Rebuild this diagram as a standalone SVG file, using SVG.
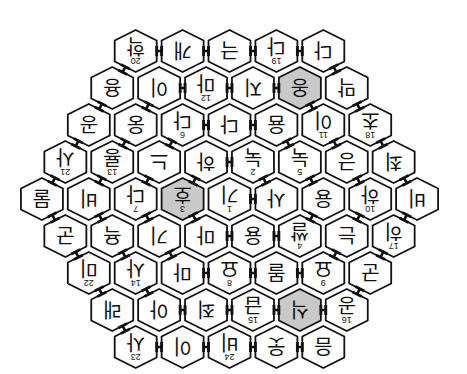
<svg xmlns="http://www.w3.org/2000/svg" xmlns:xlink="http://www.w3.org/1999/xlink" width="467" height="374" viewBox="0 0 467 374">
<style>
.c{fill:#fff;stroke:#111;stroke-width:1.8;stroke-linejoin:round}
.gy{fill:#c9c9c9}
.g{font-family:"Noto Sans CJK KR","Noto Sans",sans-serif;font-size:20px;text-anchor:middle;fill:#111}
.n{font-family:"Liberation Sans",sans-serif;font-size:9px;text-anchor:middle;fill:#111}
.k{fill:#111}
</style>
<defs>
<polygon id="hx" points="0,-21 21,-10.5 21,10.5 0,21 -21,10.5 -21,-10.5"/>
<path id="hh" d="M-3.9,-5H-1V5H-3.9Z M1,-5H3.9V5H1Z M-2.5,-1.3H2.5V1.3H-2.5Z"/>
<path id="hd" d="M-4.4,-5H-1.6V5H-4.4Z M1.6,-5H4.4V5H1.6Z M-3,-1.3H3V1.3H-3Z"/>
</defs>
<rect width="467" height="374" fill="#fff"/>

<g id="r1c1"><use xlink:href="#hx" x="135.7" y="51" class="c"/><text class="g" transform="translate(135.7 51) rotate(180)" y="11.8">학</text><text class="n" transform="translate(135.7 51) rotate(180)" y="-7.3">20</text></g>
<g id="r1c2"><use xlink:href="#hx" x="182.6" y="51" class="c"/><text class="g" transform="translate(182.6 51) rotate(180)" y="7.8">개</text></g>
<g id="r1c3"><use xlink:href="#hx" x="229.5" y="51" class="c"/><text class="g" transform="translate(229.5 51) rotate(180)" y="7.8">극</text></g>
<g id="r1c4"><use xlink:href="#hx" x="276.4" y="51" class="c"/><text class="g" transform="translate(276.4 51) rotate(180)" y="11.8">다</text><text class="n" transform="translate(276.4 51) rotate(180)" y="-7.3">19</text></g>
<g id="r1c5"><use xlink:href="#hx" x="323.3" y="51" class="c"/><text class="g" transform="translate(323.3 51) rotate(180)" y="7.8">다</text></g>

<g id="r2c1"><use xlink:href="#hx" x="112.25" y="88" class="c"/><text class="g" transform="translate(112.25 88) rotate(180)" y="7.8">용</text></g>
<g id="r2c2"><use xlink:href="#hx" x="159.15" y="88" class="c"/><text class="g" transform="translate(159.15 88) rotate(180)" y="7.8">이</text></g>
<g id="r2c3"><use xlink:href="#hx" x="206.05" y="88" class="c"/><text class="g" transform="translate(206.05 88) rotate(180)" y="11.8">마</text><text class="n" transform="translate(206.05 88) rotate(180)" y="-7.3">12</text></g>
<g id="r2c4"><use xlink:href="#hx" x="252.95" y="88" class="c"/><text class="g" transform="translate(252.95 88) rotate(180)" y="7.8">지</text></g>
<g id="r2c5"><use xlink:href="#hx" x="299.85" y="88" class="c gy"/><text class="g" transform="translate(299.85 88) rotate(180)" y="7.8">옹</text></g>
<g id="r2c6"><use xlink:href="#hx" x="346.75" y="88" class="c"/><text class="g" transform="translate(346.75 88) rotate(180)" y="7.8">막</text></g>

<g id="r3c1"><use xlink:href="#hx" x="88.8" y="125" class="c"/><text class="g" transform="translate(88.8 125) rotate(180)" y="7.8">공</text></g>
<g id="r3c2"><use xlink:href="#hx" x="135.7" y="125" class="c"/><text class="g" transform="translate(135.7 125) rotate(180)" y="7.8">웅</text></g>
<g id="r3c3"><use xlink:href="#hx" x="182.6" y="125" class="c"/><text class="g" transform="translate(182.6 125) rotate(180)" y="11.8">다</text><text class="n" transform="translate(182.6 125) rotate(180)" y="-7.3">6</text></g>
<g id="r3c4"><use xlink:href="#hx" x="229.5" y="125" class="c"/><text class="g" transform="translate(229.5 125) rotate(180)" y="7.8">다</text></g>
<g id="r3c5"><use xlink:href="#hx" x="276.4" y="125" class="c"/><text class="g" transform="translate(276.4 125) rotate(180)" y="7.8">윰</text></g>
<g id="r3c6"><use xlink:href="#hx" x="323.3" y="125" class="c"/><text class="g" transform="translate(323.3 125) rotate(180)" y="11.8">이</text><text class="n" transform="translate(323.3 125) rotate(180)" y="-7.3">11</text></g>
<g id="r3c7"><use xlink:href="#hx" x="370.2" y="125" class="c"/><text class="g" transform="translate(370.2 125) rotate(180)" y="11.8">초</text><text class="n" transform="translate(370.2 125) rotate(180)" y="-7.3">18</text></g>

<g id="r4c1"><use xlink:href="#hx" x="65.35" y="162" class="c"/><text class="g" transform="translate(65.35 162) rotate(180)" y="11.8">사</text><text class="n" transform="translate(65.35 162) rotate(180)" y="-7.3">21</text></g>
<g id="r4c2"><use xlink:href="#hx" x="112.25" y="162" class="c"/><text class="g" transform="translate(112.25 162) rotate(180)" y="11.8">룡</text><text class="n" transform="translate(112.25 162) rotate(180)" y="-7.3">13</text></g>
<g id="r4c3"><use xlink:href="#hx" x="159.15" y="162" class="c"/><text class="g" transform="translate(159.15 162) rotate(180)" y="7.8">느</text></g>
<g id="r4c4"><use xlink:href="#hx" x="206.05" y="162" class="c"/><text class="g" transform="translate(206.05 162) rotate(180)" y="7.8">하</text></g>
<g id="r4c5"><use xlink:href="#hx" x="252.95" y="162" class="c"/><text class="g" transform="translate(252.95 162) rotate(180)" y="11.8">눅</text><text class="n" transform="translate(252.95 162) rotate(180)" y="-7.3">2</text></g>
<g id="r4c6"><use xlink:href="#hx" x="299.85" y="162" class="c"/><text class="g" transform="translate(299.85 162) rotate(180)" y="11.8">눅</text><text class="n" transform="translate(299.85 162) rotate(180)" y="-7.3">5</text></g>
<g id="r4c7"><use xlink:href="#hx" x="346.75" y="162" class="c"/><text class="g" transform="translate(346.75 162) rotate(180)" y="7.8">긍</text></g>
<g id="r4c8"><use xlink:href="#hx" x="393.65" y="162" class="c"/><text class="g" transform="translate(393.65 162) rotate(180)" y="7.8">최</text></g>

<g id="r5c1"><use xlink:href="#hx" x="41.9" y="199" class="c"/><text class="g" transform="translate(41.9 199) rotate(180)" y="7.8">물</text></g>
<g id="r5c2"><use xlink:href="#hx" x="88.8" y="199" class="c"/><text class="g" transform="translate(88.8 199) rotate(180)" y="7.8">비</text></g>
<g id="r5c3"><use xlink:href="#hx" x="135.7" y="199" class="c"/><text class="g" transform="translate(135.7 199) rotate(180)" y="11.8">다</text><text class="n" transform="translate(135.7 199) rotate(180)" y="-7.3">7</text></g>
<g id="r5c4"><use xlink:href="#hx" x="182.6" y="199" class="c gy"/><text class="g" transform="translate(182.6 199) rotate(180)" y="11.8">호</text><text class="n" transform="translate(182.6 199) rotate(180)" y="-7.3">3</text></g>
<g id="r5c5"><use xlink:href="#hx" x="229.5" y="199" class="c"/><text class="g" transform="translate(229.5 199) rotate(180)" y="11.8">기</text><text class="n" transform="translate(229.5 199) rotate(180)" y="-7.3">1</text></g>
<g id="r5c6"><use xlink:href="#hx" x="276.4" y="199" class="c"/><text class="g" transform="translate(276.4 199) rotate(180)" y="7.8">사</text></g>
<g id="r5c7"><use xlink:href="#hx" x="323.3" y="199" class="c"/><text class="g" transform="translate(323.3 199) rotate(180)" y="7.8">융</text></g>
<g id="r5c8"><use xlink:href="#hx" x="370.2" y="199" class="c"/><text class="g" transform="translate(370.2 199) rotate(180)" y="11.8">하</text><text class="n" transform="translate(370.2 199) rotate(180)" y="-7.3">10</text></g>
<g id="r5c9"><use xlink:href="#hx" x="417.1" y="199" class="c"/><text class="g" transform="translate(417.1 199) rotate(180)" y="7.8">비</text></g>

<g id="r6c1"><use xlink:href="#hx" x="65.35" y="236" class="c"/><text class="g" transform="translate(65.35 236) rotate(180)" y="7.8">군</text></g>
<g id="r6c2"><use xlink:href="#hx" x="112.25" y="236" class="c"/><text class="g" transform="translate(112.25 236) rotate(180)" y="7.8">욕</text></g>
<g id="r6c3"><use xlink:href="#hx" x="159.15" y="236" class="c"/><text class="g" transform="translate(159.15 236) rotate(180)" y="7.8">기</text></g>
<g id="r6c4"><use xlink:href="#hx" x="206.05" y="236" class="c"/><text class="g" transform="translate(206.05 236) rotate(180)" y="7.8">마</text></g>
<g id="r6c5"><use xlink:href="#hx" x="252.95" y="236" class="c"/><text class="g" transform="translate(252.95 236) rotate(180)" y="7.8">융</text></g>
<g id="r6c6"><use xlink:href="#hx" x="299.85" y="236" class="c"/><text class="g" transform="translate(299.85 236) rotate(180)" y="11.8">쌀</text><text class="n" transform="translate(299.85 236) rotate(180)" y="-7.3">4</text></g>
<g id="r6c7"><use xlink:href="#hx" x="346.75" y="236" class="c"/><text class="g" transform="translate(346.75 236) rotate(180)" y="7.8">는</text></g>
<g id="r6c8"><use xlink:href="#hx" x="393.65" y="236" class="c"/><text class="g" transform="translate(393.65 236) rotate(180)" y="11.8">히</text><text class="n" transform="translate(393.65 236) rotate(180)" y="-7.3">17</text></g>

<g id="r7c1"><use xlink:href="#hx" x="88.8" y="273" class="c"/><text class="g" transform="translate(88.8 273) rotate(180)" y="11.8">미</text><text class="n" transform="translate(88.8 273) rotate(180)" y="-7.3">22</text></g>
<g id="r7c2"><use xlink:href="#hx" x="135.7" y="273" class="c"/><text class="g" transform="translate(135.7 273) rotate(180)" y="11.8">사</text><text class="n" transform="translate(135.7 273) rotate(180)" y="-7.3">14</text></g>
<g id="r7c3"><use xlink:href="#hx" x="182.6" y="273" class="c"/><text class="g" transform="translate(182.6 273) rotate(180)" y="7.8">마</text></g>
<g id="r7c4"><use xlink:href="#hx" x="229.5" y="273" class="c"/><text class="g" transform="translate(229.5 273) rotate(180)" y="11.8">요</text><text class="n" transform="translate(229.5 273) rotate(180)" y="-7.3">8</text></g>
<g id="r7c5"><use xlink:href="#hx" x="276.4" y="273" class="c"/><text class="g" transform="translate(276.4 273) rotate(180)" y="7.8">몰</text></g>
<g id="r7c6"><use xlink:href="#hx" x="323.3" y="273" class="c"/><text class="g" transform="translate(323.3 273) rotate(180)" y="11.8">요</text><text class="n" transform="translate(323.3 273) rotate(180)" y="-7.3">9</text></g>
<g id="r7c7"><use xlink:href="#hx" x="370.2" y="273" class="c"/><text class="g" transform="translate(370.2 273) rotate(180)" y="7.8">군</text></g>

<g id="r8c1"><use xlink:href="#hx" x="112.25" y="310" class="c"/><text class="g" transform="translate(112.25 310) rotate(180)" y="7.8">래</text></g>
<g id="r8c2"><use xlink:href="#hx" x="159.15" y="310" class="c"/><text class="g" transform="translate(159.15 310) rotate(180)" y="7.8">아</text></g>
<g id="r8c3"><use xlink:href="#hx" x="206.05" y="310" class="c"/><text class="g" transform="translate(206.05 310) rotate(180)" y="7.8">죄</text></g>
<g id="r8c4"><use xlink:href="#hx" x="252.95" y="310" class="c"/><text class="g" transform="translate(252.95 310) rotate(180)" y="11.8">급</text><text class="n" transform="translate(252.95 310) rotate(180)" y="-7.3">15</text></g>
<g id="r8c5"><use xlink:href="#hx" x="299.85" y="310" class="c gy"/><text class="g" transform="translate(299.85 310) rotate(180)" y="7.8">식</text></g>
<g id="r8c6"><use xlink:href="#hx" x="346.75" y="310" class="c"/><text class="g" transform="translate(346.75 310) rotate(180)" y="11.8">공</text><text class="n" transform="translate(346.75 310) rotate(180)" y="-7.3">16</text></g>

<g id="r9c1"><use xlink:href="#hx" x="135.7" y="347" class="c"/><text class="g" transform="translate(135.7 347) rotate(180)" y="11.8">사</text><text class="n" transform="translate(135.7 347) rotate(180)" y="-7.3">23</text></g>
<g id="r9c2"><use xlink:href="#hx" x="182.6" y="347" class="c"/><text class="g" transform="translate(182.6 347) rotate(180)" y="7.8">이</text></g>
<g id="r9c3"><use xlink:href="#hx" x="229.5" y="347" class="c"/><text class="g" transform="translate(229.5 347) rotate(180)" y="11.8">비</text><text class="n" transform="translate(229.5 347) rotate(180)" y="-7.3">24</text></g>
<g id="r9c4"><use xlink:href="#hx" x="276.4" y="347" class="c"/><text class="g" transform="translate(276.4 347) rotate(180)" y="7.8">웃</text></g>
<g id="r9c5"><use xlink:href="#hx" x="323.3" y="347" class="c"/><text class="g" transform="translate(323.3 347) rotate(180)" y="7.8">음</text></g>

<g id="connectors" class="k">
<use xlink:href="#hh" x="159.15" y="51"/><use xlink:href="#hh" x="206.05" y="51"/><use xlink:href="#hh" x="252.95" y="51"/><use xlink:href="#hh" x="299.85" y="51"/>
<use xlink:href="#hh" x="182.6" y="88"/><use xlink:href="#hh" x="229.5" y="88"/><use xlink:href="#hh" x="276.4" y="88"/>
<use xlink:href="#hh" x="206.05" y="125"/><use xlink:href="#hh" x="252.95" y="125"/>
<use xlink:href="#hh" x="229.5" y="162"/>
<use xlink:href="#hh" x="252.95" y="199"/>
<use xlink:href="#hh" x="229.5" y="236"/><use xlink:href="#hh" x="276.4" y="236"/>
<use xlink:href="#hh" x="206.05" y="273"/><use xlink:href="#hh" x="252.95" y="273"/><use xlink:href="#hh" x="299.85" y="273"/>
<use xlink:href="#hh" x="182.6" y="310"/><use xlink:href="#hh" x="229.5" y="310"/><use xlink:href="#hh" x="276.4" y="310"/><use xlink:href="#hh" x="323.3" y="310"/>
<use xlink:href="#hh" x="159.15" y="347"/><use xlink:href="#hh" x="206.05" y="347"/><use xlink:href="#hh" x="252.95" y="347"/><use xlink:href="#hh" x="299.85" y="347"/>

<use xlink:href="#hd" transform="translate(123.975 328.5) rotate(63.43)"/>
<use xlink:href="#hd" transform="translate(100.525 291.5) rotate(63.43)"/>
<use xlink:href="#hd" transform="translate(77.075 254.5) rotate(63.43)"/>
<use xlink:href="#hd" transform="translate(53.625 217.5) rotate(63.43)"/>
<use xlink:href="#hd" transform="translate(335.025 69.5) rotate(63.43)"/>
<use xlink:href="#hd" transform="translate(358.475 106.5) rotate(63.43)"/>
<use xlink:href="#hd" transform="translate(381.925 143.5) rotate(63.43)"/>
<use xlink:href="#hd" transform="translate(405.375 180.5) rotate(63.43)"/>
<use xlink:href="#hd" transform="translate(147.425 291.5) rotate(63.43)"/>
<use xlink:href="#hd" transform="translate(123.975 254.5) rotate(63.43)"/>
<use xlink:href="#hd" transform="translate(100.525 217.5) rotate(63.43)"/>
<use xlink:href="#hd" transform="translate(311.575 106.5) rotate(63.43)"/>
<use xlink:href="#hd" transform="translate(335.025 143.5) rotate(63.43)"/>
<use xlink:href="#hd" transform="translate(358.475 180.5) rotate(63.43)"/>
<use xlink:href="#hd" transform="translate(170.875 254.5) rotate(63.43)"/>
<use xlink:href="#hd" transform="translate(147.425 217.5) rotate(63.43)"/>
<use xlink:href="#hd" transform="translate(288.125 143.5) rotate(63.43)"/>
<use xlink:href="#hd" transform="translate(311.575 180.5) rotate(63.43)"/>
<use xlink:href="#hd" transform="translate(194.325 217.5) rotate(63.43)"/>
<use xlink:href="#hd" transform="translate(264.675 180.5) rotate(63.43)"/>

<use xlink:href="#hd" transform="translate(53.625 180.5) rotate(-63.43)"/>
<use xlink:href="#hd" transform="translate(77.075 143.5) rotate(-63.43)"/>
<use xlink:href="#hd" transform="translate(100.525 106.5) rotate(-63.43)"/>
<use xlink:href="#hd" transform="translate(123.975 69.5) rotate(-63.43)"/>
<use xlink:href="#hd" transform="translate(405.375 217.5) rotate(-63.43)"/>
<use xlink:href="#hd" transform="translate(381.925 254.5) rotate(-63.43)"/>
<use xlink:href="#hd" transform="translate(358.475 291.5) rotate(-63.43)"/>
<use xlink:href="#hd" transform="translate(100.525 180.5) rotate(-63.43)"/>
<use xlink:href="#hd" transform="translate(123.975 143.5) rotate(-63.43)"/>
<use xlink:href="#hd" transform="translate(147.425 106.5) rotate(-63.43)"/>
<use xlink:href="#hd" transform="translate(358.475 217.5) rotate(-63.43)"/>
<use xlink:href="#hd" transform="translate(335.025 254.5) rotate(-63.43)"/>
<use xlink:href="#hd" transform="translate(147.425 180.5) rotate(-63.43)"/>
<use xlink:href="#hd" transform="translate(170.875 143.5) rotate(-63.43)"/>
<use xlink:href="#hd" transform="translate(311.575 217.5) rotate(-63.43)"/>
<use xlink:href="#hd" transform="translate(194.325 180.5) rotate(-63.43)"/>
</g>
</svg>
